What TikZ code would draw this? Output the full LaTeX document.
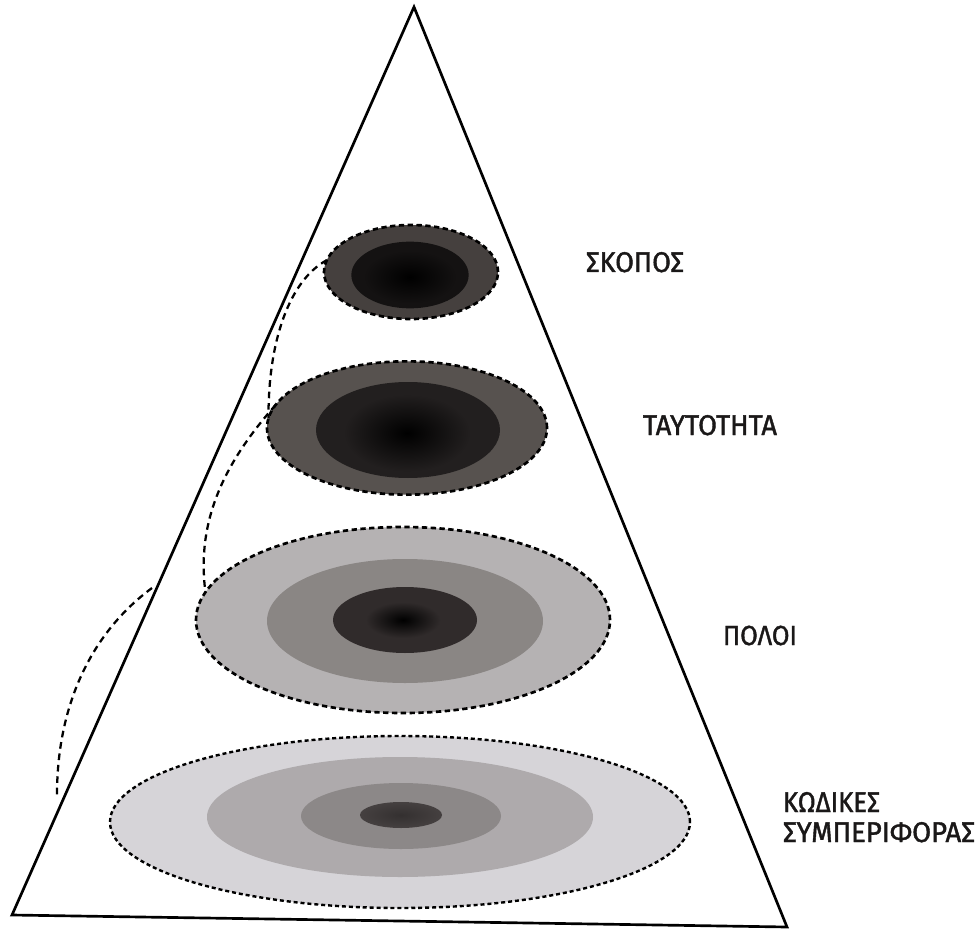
\documentclass[tikz,border=0pt]{standalone}
\usepackage{fontspec}
\setsansfont{Fira Sans}
\newfontfamily\lblfont[FakeBold=1.5]{Fira Sans}
\usetikzlibrary{shapes.geometric}
\definecolor{skA}{HTML}{45403E}
\definecolor{skB}{HTML}{141212}
\definecolor{tyA}{HTML}{57524F}
\definecolor{tyB}{HTML}{221F1F}
\definecolor{plA}{HTML}{B5B2B3}
\definecolor{plB}{HTML}{8A8684}
\definecolor{plC}{HTML}{302B2B}
\definecolor{kdA}{HTML}{D6D4D8}
\definecolor{kdB}{HTML}{AEAAAC}
\definecolor{kdC}{HTML}{8C8888}
\definecolor{kdD}{HTML}{454040}
\definecolor{lbltext}{HTML}{1A1818}
\begin{document}
\begin{tikzpicture}[x=0.75pt,y=-0.75pt,
  ring/.style={ellipse, inner sep=0pt, outer sep=0pt, draw=none},
  rim/.style={ellipse, inner sep=0pt, outer sep=0pt, draw=black, line width=2pt, dash pattern=on 4pt off 2.6pt},
  link/.style={draw=black, line width=1.7pt, dash pattern=on 5pt off 3.6pt},
  lbl/.style={anchor=base west, inner sep=0pt, outer sep=0pt, text=lbltext, font=\lblfont}]
\useasboundingbox (0,0) rectangle (977,930);
\fill[white] (0,0) rectangle (977,930);
% triangle
\coordinate (apex) at (414,7);
\coordinate (bl) at (12,915);
\coordinate (br) at (787,927);
\draw[line width=2pt, line join=miter] (apex) -- (br) -- (bl) -- cycle;
% SKOPOS
\node[rim, fill=skA, minimum width=130.5pt, minimum height=70.5pt] (sk) at (411,272) {};
\node[ring, fill=skB, minimum width=88pt, minimum height=50pt] (skb) at (410,275) {};
\node[ring, shading=radial, inner color=black, outer color=skB, minimum width=70pt, minimum height=40pt] (skc) at (410,277) {};
% TAYTOTHTA
\node[rim, fill=tyA, minimum width=210pt, minimum height=100pt] (ty) at (407,428) {};
\node[ring, fill=tyB, minimum width=138pt, minimum height=72pt] (tyb) at (408,430) {};
\node[ring, shading=radial, inner color=black, outer color=tyB, minimum width=95pt, minimum height=58pt] (tyc) at (407,433) {};
% POLOI
\node[rim, fill=plA, minimum width=310.5pt, minimum height=139.5pt] (pl) at (403,620) {};
\node[ring, fill=plB, minimum width=207pt, minimum height=93pt] (plb) at (405,621) {};
\node[ring, fill=plC, minimum width=108pt, minimum height=49.5pt] (plc) at (405,620) {};
\node[ring, shading=radial, inner color=black, outer color=plC, minimum width=56pt, minimum height=27pt] (pld) at (403,620) {};
% KODIKES
\node[rim, fill=kdA, minimum width=435pt, minimum height=129pt, line width=1.8pt, dash pattern=on 3pt off 2.2pt] (kd) at (400,822) {};
\node[ring, fill=kdB, minimum width=289.5pt, minimum height=90pt] (kdb) at (400,817) {};
\node[ring, fill=kdC, minimum width=150pt, minimum height=49.5pt] (kdc) at (401,816) {};
\node[ring, shading=radial, inner color=kdD!75!black, outer color=kdD, minimum width=61.5pt, minimum height=19.5pt] (kdd) at (401,815) {};
% dashed links
\coordinate (cs) at (152,588);
\coordinate (ce) at (57,795);
\draw[link] (sk.172) .. controls (290,280) and (268,340) .. (ty.176);
\draw[link] (ty.170) .. controls (225,462) and (196,520) .. (pl.172);
\draw[link] (cs) .. controls (95,630) and (57,700) .. (ce);
% labels
\node[lbl] (lsk) at (586,272) {\resizebox{73.5pt}{15pt}{ΣΚΟΠΟΣ}};
\node[lbl] (lty) at (643,435) {\resizebox{100.5pt}{15pt}{ΤΑΥΤΟΤΗΤΑ}};
\node[lbl] (lpl) at (723,645) {\resizebox{55.5pt}{14.5pt}{ΠΟΛΟΙ}};
\node[lbl] (lkd1) at (783,812) {\resizebox{72.75pt}{15pt}{ΚΩΔΙΚΕΣ}};
\node[lbl] (lkd2) at (783,842) {\resizebox{144pt}{15pt}{ΣΥΜΠΕΡΙΦΟΡΑΣ}};
\end{tikzpicture}
\end{document}
